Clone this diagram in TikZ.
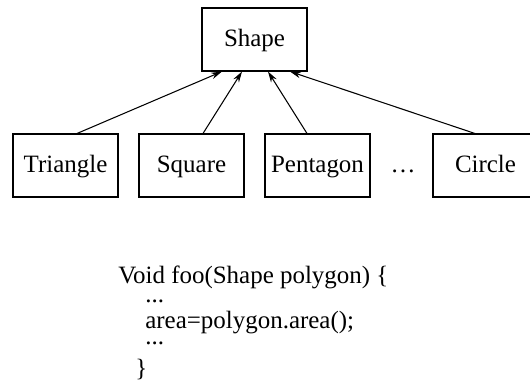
\documentclass[tikz,border=0pt]{standalone}
\usepackage{fontspec}
\setmainfont{Liberation Serif}
\usetikzlibrary{arrows.meta}

\begin{document}
\begin{tikzpicture}[
  box/.style={draw, line width=0.6pt, minimum width=2.1cm, minimum height=1.26cm, inner sep=0pt, text height=1.75ex, text depth=0pt},
  code/.style={anchor=base west, inner sep=0pt},
  codedots/.style={code, text height=0.4ex, text depth=0pt},
  font=\fontsize{14.2}{17}\selectfont
]
\useasboundingbox (0,0) rectangle (10.6,-7.78);

% Nodes (classes)
\node[box] (shape) at (5.09, -0.79) {Shape};
\node[box] (tri) at (1.31, -3.31) {Triangle};
\node[box] (sq) at (3.83, -3.31) {Square};
\node[box] (pent) at (6.35, -3.31) {Pentagon};
\node[text height=1.75ex, text depth=0pt, inner sep=0pt] (more) at (8.06, -3.31) {…};
\node[box] (circ) at (9.71, -3.31) {Circle};

% Arrows to the base class
\draw[-{Stealth[length=2.2mm,width=1.3mm]}, line width=0.6pt] ([xshift=0.23cm]tri.north) -- ([xshift=-0.65cm]shape.south);
\draw[-{Stealth[length=2.2mm,width=1.3mm]}, line width=0.6pt] ([xshift=0.23cm]sq.north) -- ([xshift=-0.25cm]shape.south);
\draw[-{Stealth[length=2.2mm,width=1.3mm]}, line width=0.6pt] ([xshift=-0.21cm]pent.north) -- ([xshift=0.27cm]shape.south);
\draw[-{Stealth[length=2.2mm,width=1.3mm]}, line width=0.6pt] ([xshift=-0.21cm]circ.north) -- ([xshift=0.71cm]shape.south);

% Code
\node[code] (l1) at (2.36, -5.66) {Void foo(Shape polygon) \{};
\node[codedots] (l2) at (2.90, -6.05) {...};
\node[code] (l3) at (2.90, -6.56) {area=polygon.area();};
\node[codedots] (l4) at (2.90, -6.88) {...};
\node[code] (l5) at (2.70, -7.52) {\}};

\end{tikzpicture}
\end{document}
